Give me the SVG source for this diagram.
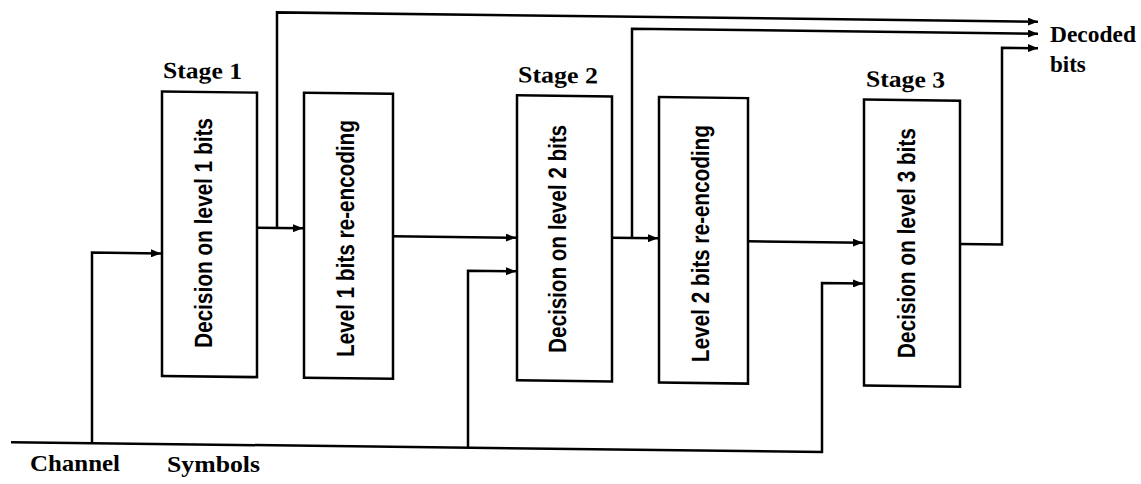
<svg xmlns="http://www.w3.org/2000/svg" width="1141" height="484" viewBox="0 0 1141 484">
<style>
.box{fill:#fff;stroke:#000;stroke-width:2.5}
.wire{fill:none;stroke:#000;stroke-width:2.5;stroke-linejoin:miter}
.lbl{font-family:"Liberation Serif","Times New Roman",serif;font-weight:bold;font-size:23px;fill:#000}
.vt{font-family:"Liberation Sans",Arial,sans-serif;font-weight:bold;font-size:25px;fill:#000}
</style>
<defs>
<marker id="ah" markerUnits="userSpaceOnUse" markerWidth="11" markerHeight="8" refX="10" refY="4" orient="auto">
<path d="M0,0 L10,4 L0,8 z" fill="#000"/>
</marker>
</defs>
<rect width="1141" height="484" fill="#fff"/>
<g transform="skewY(0.7)">
<g id="connectors">
<path class="wire" d="M11,442 H822 V273 H863" marker-end="url(#ah)"/>
<path class="wire" d="M92,442 V251.5 H161" marker-end="url(#ah)"/>
<path class="wire" d="M468,442 V265 H516" marker-end="url(#ah)"/>
<path class="wire" d="M257,224.6 H303" marker-end="url(#ah)"/>
<path class="wire" d="M277,224.6 V9 H1038" marker-end="url(#ah)"/>
<path class="wire" d="M393,231.4 H516" marker-end="url(#ah)"/>
<path class="wire" d="M612,230.3 H658" marker-end="url(#ah)"/>
<path class="wire" d="M632,230.3 V21 H1038" marker-end="url(#ah)"/>
<path class="wire" d="M748,232.2 H863" marker-end="url(#ah)"/>
<path class="wire" d="M960,232.3 H1002 V35.5 H1038" marker-end="url(#ah)"/>
</g>
<g id="stage1">
<text class="lbl" x="163" y="76" textLength="79" lengthAdjust="spacingAndGlyphs">Stage 1</text>
<rect class="box" x="162" y="89.5" width="95" height="284.5"/>
<text class="vt" text-anchor="middle" transform="translate(212,230.5) rotate(-90)" textLength="230" lengthAdjust="spacingAndGlyphs">Decision on level 1 bits</text>
</g>
<g id="reencode1">
<rect class="box" x="304" y="89" width="89" height="285"/>
<text class="vt" text-anchor="middle" transform="translate(354,234.3) rotate(-90)" textLength="237" lengthAdjust="spacingAndGlyphs">Level 1 bits re-encoding</text>
</g>
<g id="stage2">
<text class="lbl" x="518" y="76" textLength="80" lengthAdjust="spacingAndGlyphs">Stage 2</text>
<rect class="box" x="517" y="89" width="95" height="285"/>
<text class="vt" text-anchor="middle" transform="translate(566,232) rotate(-90)" textLength="228" lengthAdjust="spacingAndGlyphs">Decision on level 2 bits</text>
</g>
<g id="reencode2">
<rect class="box" x="659" y="89" width="89" height="285.5"/>
<text class="vt" text-anchor="middle" transform="translate(709,235) rotate(-90)" textLength="237" lengthAdjust="spacingAndGlyphs">Level 2 bits re-encoding</text>
</g>
<g id="stage3">
<text class="lbl" x="866" y="76" textLength="79" lengthAdjust="spacingAndGlyphs">Stage 3</text>
<rect class="box" x="864" y="89" width="96" height="286"/>
<text class="vt" text-anchor="middle" transform="translate(915,232) rotate(-90)" textLength="230" lengthAdjust="spacingAndGlyphs">Decision on level 3 bits</text>
</g>
</g>
<g id="output-label">
<text class="lbl" x="1050" y="42" font-size="21" textLength="86" lengthAdjust="spacingAndGlyphs">Decoded</text>
<text class="lbl" x="1050" y="72" font-size="21">bits</text>
</g>
<g id="input-label">
<text class="lbl" x="30" y="471" textLength="90" lengthAdjust="spacingAndGlyphs">Channel</text>
<text class="lbl" x="167" y="472" textLength="93" lengthAdjust="spacingAndGlyphs">Symbols</text>
</g>
</svg>
